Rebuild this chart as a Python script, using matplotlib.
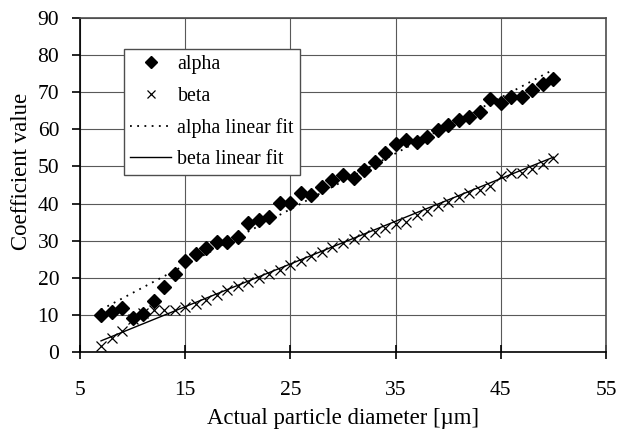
import numpy as np
import matplotlib.pyplot as plt

plt.rcParams['font.family'] = ['Liberation Serif', 'DejaVu Serif']

diameter = list(range(7, 51))
alpha = [10.0, 10.7, 11.8, 9.1, 10.3, 13.7, 17.5, 20.9, 24.5, 26.3, 27.9, 29.7,
         29.6, 30.9, 34.7, 35.6, 36.5, 40.1, 40.1, 42.8, 42.4, 44.4, 46.3, 47.8,
         46.9, 49.1, 51.1, 53.6, 56.0, 57.2, 56.7, 58.0, 59.8, 61.3, 62.5, 63.3,
         64.8, 68.3, 67.0, 68.8, 68.7, 70.5, 72.1, 73.6]
beta = [1.5, 3.8, 5.6, 9.0, 10.5, 11.2, 11.2, 11.4, 12.0, 13.0, 14.1, 15.3,
        16.7, 17.9, 18.9, 19.9, 20.9, 22.2, 23.5, 24.6, 25.8, 27.0, 28.2, 29.3,
        30.4, 31.4, 32.3, 33.4, 34.5, 35.0, 36.9, 38.1, 39.3, 40.5, 41.7, 42.8,
        43.6, 44.8, 47.3, 48.3, 48.2, 49.3, 50.6, 52.2]

# fit lines (end points)
fit_x = [7, 50]
alpha_fit = [11.4, 76.1]
beta_fit = [3.0, 52.5]

fig = plt.figure(figsize=(6.18, 4.32), dpi=100)
ax = fig.add_axes([0.1294, 0.1852, 0.8512, 0.7731])

ax.plot(diameter, alpha, 'D', color='black', markersize=6.8, label='alpha', zorder=3)
ax.plot(diameter, beta, 'x', color='black', markersize=7.5, markeredgewidth=0.9,
        label='beta', zorder=3)
ax.plot(fit_x, alpha_fit, color='black', linestyle=(0, (1, 3)), linewidth=1.3,
        label='alpha linear fit', zorder=2)
ax.plot(fit_x, beta_fit, color='black', linestyle='-', linewidth=1.0,
        label='beta linear fit', zorder=2)

ax.set_xlim(5, 55)
ax.set_ylim(0, 90)
ax.set_xticks(range(5, 56, 10))
ax.set_yticks(range(0, 91, 10))
ax.grid(True, color='0.35', linewidth=0.8)
ax.set_axisbelow(True)
for s in ax.spines.values():
    s.set_linewidth(1.2)
    s.set_color('0.3')
ax.spines['left'].set_color('black')
ax.spines['bottom'].set_color('black')
ax.tick_params(axis='x', direction='inout', length=10, width=1.2, labelsize=15.5, pad=16)
ax.tick_params(axis='y', direction='out', length=6, width=1.2, labelsize=15.5, pad=9)

ax.set_xlabel('Actual particle diameter [\u00b5m]', fontsize=16.4, labelpad=6)
ax.set_ylabel('Coefficient value', fontsize=16.4)
ax.yaxis.set_label_coords(-0.092, 0.542)

leg = ax.legend(loc='upper left', bbox_to_anchor=(0.0842, 0.9063), fontsize=14.3,
                frameon=True, fancybox=False, edgecolor='0.3', framealpha=1,
                handlelength=2.05, handletextpad=0.33, borderpad=0.3,
                labelspacing=0.62, borderaxespad=0, markerscale=0.85)
leg.get_frame().set_linewidth(1.0)

fig.savefig('out.png', dpi=100)
